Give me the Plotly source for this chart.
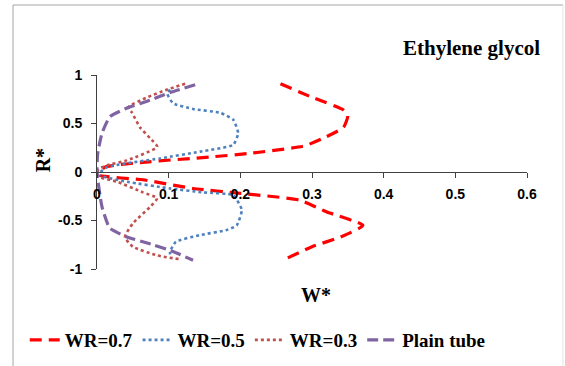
import plotly.graph_objects as go

# Dimensionless velocity W* against radial position R*
wr07_w = [0.256, 0.30, 0.344, 0.35, 0.344, 0.316, 0.29, 0.21, 0.158, 0.064, 0.011,
          0.002, 0.064, 0.134, 0.20, 0.283, 0.32, 0.371, 0.34, 0.30, 0.265]
wr07_r = [0.91, 0.77, 0.64, 0.58, 0.46, 0.35, 0.27, 0.19, 0.155, 0.10, 0.05,
          -0.03, -0.08, -0.17, -0.22, -0.29, -0.41, -0.55, -0.67, -0.77, -0.89]

wr05_w = [0.102, 0.098, 0.106, 0.134, 0.172, 0.19, 0.197, 0.19, 0.144, 0.088, 0.014,
          0.002, 0.042, 0.102, 0.148, 0.19, 0.202, 0.195, 0.18, 0.144, 0.11, 0.102, 0.102]
wr05_r = [0.85, 0.81, 0.71, 0.65, 0.61, 0.54, 0.40, 0.28, 0.21, 0.14, 0.05,
          -0.03, -0.10, -0.17, -0.21, -0.24, -0.39, -0.55, -0.60, -0.65, -0.72, -0.82, -0.85]

wr03_w = [0.123, 0.098, 0.07, 0.044, 0.049, 0.06, 0.074, 0.084, 0.042, 0.014, 0.002,
          0.0, 0.028, 0.064, 0.084, 0.074, 0.05, 0.039, 0.05, 0.084, 0.116]
wr03_r = [0.91, 0.85, 0.77, 0.67, 0.61, 0.46, 0.35, 0.26, 0.12, 0.07, 0.03,
          -0.04, -0.10, -0.21, -0.27, -0.36, -0.53, -0.67, -0.77, -0.86, -0.90]

plain_w = [0.137, 0.102, 0.074, 0.042, 0.018, 0.007, 0.001, 0.0,
           0.007, 0.018, 0.042, 0.078, 0.106, 0.134]
plain_r = [0.90, 0.82, 0.74, 0.66, 0.57, 0.40, 0.19, 0.0,
           -0.36, -0.58, -0.67, -0.75, -0.82, -0.91]

x_ticks = [0, 0.1, 0.2, 0.3, 0.4, 0.5, 0.6]
y_ticks = [-1, -0.5, 0, 0.5, 1]

series = [
    ("WR=0.7", wr07_w, wr07_r, "#FF0000", 3.2, "12px,7px"),
    ("WR=0.5", wr05_w, wr05_r, "#4F81BD", 2.6, "dot"),
    ("WR=0.3", wr03_w, wr03_r, "#C0504D", 2.6, "dot"),
    ("Plain tube", plain_w, plain_r, "#8064A2", 3.2, "11px,5px"),
]

fig = go.Figure()
for name, w, r, color, width, dash in series:
    fig.add_trace(go.Scatter(
        x=w, y=r, mode="lines", name=name,
        line=dict(color=color, width=width, dash=dash, shape="spline", smoothing=0.5),
    ))

axis_color = "#404040"
tick_font = dict(family="Liberation Sans", size=14, color="#000000", weight="bold")
serif_bold = dict(family="Liberation Serif", color="#000000", weight="bold")

fig.update_layout(
    width=565, height=366,
    margin=dict(l=97, r=38, t=75, b=97, autoexpand=False),
    paper_bgcolor="white", plot_bgcolor="white",
    showlegend=True,
    legend=dict(
        orientation="h", x=-0.168, y=-0.366, xanchor="left", yanchor="middle",
        font=dict(size=19, **serif_bold),
        bgcolor="rgba(0,0,0,0)", itemclick=False,
    ),
    xaxis=dict(
        range=[0, 0.6], tickvals=x_ticks, ticktext=[f"{v:g}" for v in x_ticks],
        showgrid=False, zeroline=False, showline=True, linecolor=axis_color, linewidth=1,
        ticks="outside", ticklen=5, tickcolor=axis_color, tickwidth=1,
        tickfont=tick_font, anchor="free", position=0.5, ticklabelstandoff=4,
    ),
    yaxis=dict(
        range=[-1, 1], tickvals=y_ticks, ticktext=[f"{v:g}" for v in y_ticks],
        showgrid=False, zeroline=False, showline=True, linecolor=axis_color, linewidth=1,
        ticks="outside", ticklen=5, tickcolor=axis_color, tickwidth=1,
        tickfont=tick_font, ticklabelstandoff=6,
    ),
)

# Axis titles and chart label
fig.add_annotation(text="W*", x=0.51, y=-0.135, xref="paper", yref="paper",
                   xanchor="center", yanchor="middle",
                   showarrow=False, font=dict(size=20, **serif_bold))
fig.add_annotation(text="R*", x=-0.1256, y=0.56, xref="paper", yref="paper",
                   xanchor="center", yanchor="middle",
                   showarrow=False, textangle=-90, font=dict(size=20, **serif_bold))
fig.add_annotation(text="Ethylene glycol", x=0.87, y=1.14, xref="paper", yref="paper",
                   xanchor="center", yanchor="middle",
                   showarrow=False, font=dict(size=21, **serif_bold))

# Outer chart frame
frame = "#A6A6A6"
fig.add_shape(type="line", xref="paper", yref="paper", x0=-0.1953, x1=1.0837, y0=1.3608, y1=1.3608,
              line=dict(color=frame, width=1))
fig.add_shape(type="line", xref="paper", yref="paper", x0=-0.1953, x1=-0.1953, y0=1.3608, y1=-0.55,
              line=dict(color=frame, width=1))
fig.add_shape(type="line", xref="paper", yref="paper", x0=1.0837, x1=1.0837, y0=1.3608, y1=-0.55,
              line=dict(color="#E4E4E4", width=1))

fig.write_html("out.html")
